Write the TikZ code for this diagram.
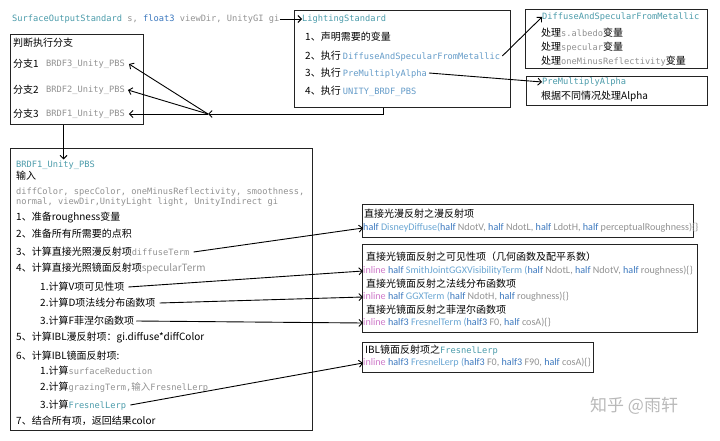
\documentclass[tikz,border=0pt]{standalone}
\usepackage{fontspec}
\setmainfont{Noto Sans CJK SC}
\newfontfamily\monof{DejaVu Sans Mono}
\newfontfamily\codef{Carlito}
\usetikzlibrary{arrows.meta}
\definecolor{tealc}{RGB}{75,155,170}
\definecolor{lsb}{RGB}{100,155,200}
\definecolor{kwb}{RGB}{60,120,190}
\definecolor{fnb}{RGB}{105,165,210}
\definecolor{grayc}{RGB}{145,145,145}
\definecolor{pinkc}{RGB}{205,120,200}
\definecolor{boxc}{RGB}{35,35,35}
\definecolor{wmc}{RGB}{185,185,185}
\newcommand\mt[2]{{\color{#1}\monof\fontsize{8.7}{10}\selectfont #2}}
\newcommand\kw[1]{\textcolor{kwb}{#1}}
\newcommand\fnc[1]{\textcolor{fnb}{#1}}
\newcommand\gr[1]{\textcolor{grayc}{#1}}
\newcommand\pk[1]{\textcolor{pinkc}{#1}}
\tikzset{
  box/.style={draw=boxc, line width=1.1pt, anchor=north west, inner sep=0pt},
  txt/.style={anchor=west, inner sep=0pt, font=\fontsize{10}{12}\selectfont},
  code/.style={anchor=west, inner sep=0pt, font=\codef\fontsize{10.1}{12}\selectfont},
  arr/.style={-{Straight Barb[length=3.5pt,width=7pt]}, line width=0.9pt, draw=black},
}
\begin{document}
\begin{tikzpicture}[x=1pt,y=-1pt]
\useasboundingbox (0,0) rectangle (720,441);
% boxes
\node[box, minimum width=216pt, minimum height=97pt] (ls) at (294,10) {};
\node[box, minimum width=133pt, minimum height=90pt] (bb) at (10,34) {};
\node[box, minimum width=302pt, minimum height=282pt] (rb) at (10,148) {};
\node[box, minimum width=182pt, minimum height=59pt] (mb) at (525,9) {};
\node[box, minimum width=181pt, minimum height=29pt] (pb) at (526,76) {};
\node[box, minimum width=331pt, minimum height=33pt] (db) at (362,204) {};
\node[box, minimum width=335pt, minimum height=88pt] (sb) at (362,244) {};
\node[box, minimum width=231pt, minimum height=30pt] (fb) at (362,342) {};

% signature
\node[anchor=west, inner sep=0pt] (sig) at (12,19) {{\monof\fontsize{8.7}{10}\selectfont \color{tealc}SurfaceOutputStandard \color{grayc}s, \color{kwb}float3 \color{grayc}viewDir, UnityGI gi}};

% LightingStandard
\node[anchor=west, inner sep=0pt] (lsT) at (302,19) {\mt{tealc}{LightingStandard}};
\node[txt] (ls1) at (305,37) {1、声明需要的变量};
\node[txt] (ls2) at (305,56) {2、执行 \mt{lsb}{DiffuseAndSpecularFromMetallic}};
\node[txt] (ls3) at (305,73) {3、执行 \mt{lsb}{PreMultiplyAlpha}};
\node[txt] (ls4) at (305,91) {4、执行 \mt{lsb}{UNITY\_BRDF\_PBS}};

% branch box
\node[txt] (bT) at (13,43) {判断执行分支};
\node[txt] (b1l) at (13,64) {分支1};
\node[anchor=west, inner sep=0pt] (b1) at (46,64) {\mt{grayc}{BRDF3\_Unity\_PBS}};
\node[txt] (b2l) at (13,90) {分支2};
\node[anchor=west, inner sep=0pt] (b2) at (46,90) {\mt{grayc}{BRDF2\_Unity\_PBS}};
\node[txt] (b3l) at (13,114) {分支3};
\node[anchor=west, inner sep=0pt] (b3) at (46,114) {\mt{grayc}{BRDF1\_Unity\_PBS}};

% BRDF1 box
\node[anchor=west, inner sep=0pt] (l0) at (16,165) {\mt{tealc}{BRDF1\_Unity\_PBS}};
\node[txt] (l1) at (16,176) {输入};
\node[anchor=west, inner sep=0pt] (l2) at (16,192) {\mt{grayc}{diffColor, specColor, oneMinusReflectivity, smoothness,}};
\node[anchor=west, inner sep=0pt] (l3) at (16,202) {\mt{grayc}{normal, viewDir,UnityLight light, UnityIndirect gi}};
\node[txt] (l4) at (16,218) {1、准备roughness变量};
\node[txt] (l5) at (16,234) {2、准备所有所需要的点积};
\node[txt] (l6) at (16,252) {3、计算直接光照漫反射项\mt{grayc}{diffuseTerm}};
\node[txt] (l7) at (16,268) {4、计算直接光照镜面反射项\textcolor{grayc}{specularTerm}};
\node[txt] (l8) at (40,287) {1.计算V项可见性项};
\node[txt] (l9) at (40,303) {2.计算D项法线分布函数项};
\node[txt] (l10) at (40,321) {3.计算F菲涅尔函数项};
\node[txt] (l11) at (16,338) {5、计算IBL漫反射项：gi.diffuse*diffColor};
\node[txt] (l12) at (16,356) {6、计算IBL镜面反射项:};
\node[txt] (l13) at (40,371) {1.计算\mt{grayc}{surfaceReduction}};
\node[txt] (l14) at (40,387) {2.计算\mt{grayc}{grazingTerm,{\rmfamily\fontsize{9.5}{10}\selectfont 输入}FresnelLerp}};
\node[txt] (l15) at (40,405) {3.计算\mt{tealc}{FresnelLerp}};
\node[txt] (l16) at (16,421) {7、结合所有项，返回结果color};

% metallic box
\node[anchor=west, inner sep=0pt] (mT) at (542,17) {\mt{tealc}{DiffuseAndSpecularFromMetallic}};
\node[txt] (m1) at (541,33) {处理\mt{grayc}{s.albedo}变量};
\node[txt] (m2) at (541,47) {处理\mt{grayc}{specular}变量};
\node[txt] (m3) at (541,61) {处理\mt{grayc}{oneMinusReflectivity}变量};

% premultiply box
\node[anchor=west, inner sep=0pt] (pT) at (542,82) {\mt{tealc}{PreMultiplyAlpha}};
\node[txt] (p1) at (541,96) {根据不同情况处理Alpha};

% diffuse box
\node[txt] (dT) at (364,214) {直接光漫反射之漫反射项};
\node[code] (dc) at (363,228) {\kw{half} \fnc{DisneyDiffuse(}\kw{half} \gr{NdotV,} \kw{half} \gr{NdotL,} \kw{half} \gr{LdotH,} \kw{half} \gr{perceptualRoughness)\{\}}};

% specular box
\node[txt] (s1T) at (366,257) {直接光镜面反射之可见性项（几何函数及配平系数）};
\node[code] (s1c) at (363,271) {\pk{inline} \kw{half} \fnc{SmithJointGGXVisibilityTerm (}\kw{half} \gr{NdotL,} \kw{half} \gr{NdotV,} \kw{half} \gr{roughness)\{\}}};
\node[txt] (s2T) at (366,284) {直接光镜面反射之法线分布函数项};
\node[code] (s2c) at (363,297) {\pk{inline} \kw{half} \fnc{GGXTerm (}\kw{half} \gr{NdotH,} \kw{half} \gr{roughness)\{\}}};
\node[txt] (s3T) at (366,310) {直接光镜面反射之菲涅尔函数项};
\node[code] (s3c) at (363,323) {\pk{inline} \kw{half3} \fnc{FresnelTerm (}\kw{half3} \gr{F0,} \kw{half} \gr{cosA)\{\}}};

% fresnel lerp box
\node[txt] (fT) at (365,350) {IBL镜面反射项之\mt{tealc}{FresnelLerp}};
\node[code] (fc) at (363,363) {\pk{inline} \kw{half3} \fnc{FresnelLerp (}\kw{half3} \gr{F0,} \kw{half3} \gr{F90,} \kw{half} \gr{cosA)\{\}}};

% watermark
\node[anchor=west, inner sep=0pt, text=wmc, font=\fontsize{17}{19}\selectfont] (wm) at (590,406) {知乎 @雨轩};

% connectors
\coordinate (junc) at (208,114);
\draw[arr] (sig.east) -- (lsT.west);
\draw[arr] ([xshift=-19pt]ls.south) |- (junc);
\draw[arr] (junc) -- ([xshift=4pt]b1.east);
\draw[arr] (junc) -- ([xshift=3pt]b2.east);
\draw[arr] (junc) -- ([xshift=4pt]b3.east);
\draw[arr] ([xshift=-13.5pt]bb.south) -- ([xshift=-13.5pt,yshift=1pt]bb.south |- l0.north);
\draw[arr] ([xshift=2pt]ls2.east) -- (mT.west);
\draw[arr] ([xshift=2pt]ls3.east) -- (pT.west);
\draw[arr] ([xshift=4pt]l6.east) -- (dc.west);
\draw[arr] ([xshift=4pt]l8.east) -- (s1c.west);
\draw[arr] ([xshift=4pt]l9.east) -- (s2c.west);
\draw[arr] ([xshift=2pt]l10.east) -- (s3c.west);
\draw[arr] ([xshift=4pt]l15.east) -- (fc.west);
\end{tikzpicture}
\end{document}
